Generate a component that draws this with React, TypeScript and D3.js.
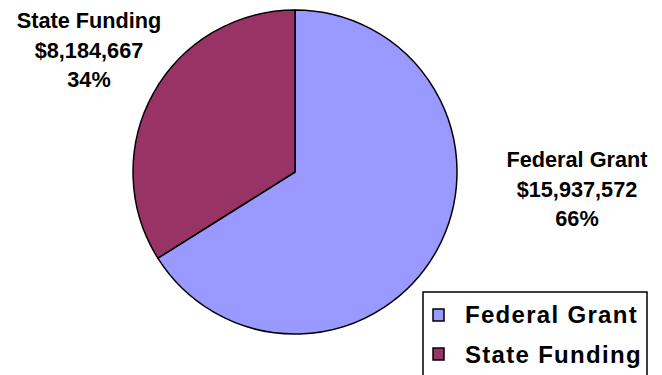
import React from "react";
import * as d3 from "d3";

const categories = ["Federal Grant", "State Funding"];
const amounts = [15937572, 8184667];
const percents = ["66%", "34%"];
const colors = ["#9999FF", "#993366"];

const W = 662;
const H = 375;

export default function App() {
  const cx = 295;
  const cy = 172;
  const r = 162;
  const pie = d3.pie<number>().sort(null).value((d) => d);
  const arcs = pie(amounts);
  const arcGen = d3.arc<d3.PieArcDatum<number>>().innerRadius(0).outerRadius(r);
  const fmt = d3.format("$,");
  const labelPos = [
    { x: 577, y: 167 },
    { x: 89, y: 28 },
  ];
  return (
    <svg
      width={W}
      height={H}
      style={{ position: "absolute", left: 0, top: 0, background: "#fff" }}
      fontFamily="'Liberation Sans', Arial, sans-serif"
      fontWeight="bold"
    >
      <g transform={`translate(${cx},${cy})`}>
        {arcs.map((a, i) => (
          <path key={i} d={arcGen(a) || ""} fill={colors[i]} stroke="#000" strokeWidth={1.5} strokeLinejoin="round" />
        ))}
      </g>
      {categories.map((c, i) => (
        <text key={c} x={labelPos[i].x} textAnchor="middle" fontSize={21.7} fill="#000">
          <tspan x={labelPos[i].x} y={labelPos[i].y}>{c}</tspan>
          <tspan x={labelPos[i].x} y={labelPos[i].y + 29.5}>{fmt(amounts[i])}</tspan>
          <tspan x={labelPos[i].x} y={labelPos[i].y + 59}>{percents[i]}</tspan>
        </text>
      ))}
      <rect x={423} y={292} width={224} height={100} fill="#fff" stroke="#000" strokeWidth={1.5} />
      {categories.map((c, i) => (
        <g key={c}>
          <rect x={433} y={309 + i * 39} width={11} height={12} fill={colors[i]} stroke="#000" strokeWidth={1.5} />
          <text x={465} y={323 + i * 40} fontSize={24} letterSpacing={1.3} fill="#000">
            {c}
          </text>
        </g>
      ))}
    </svg>
  );
}
